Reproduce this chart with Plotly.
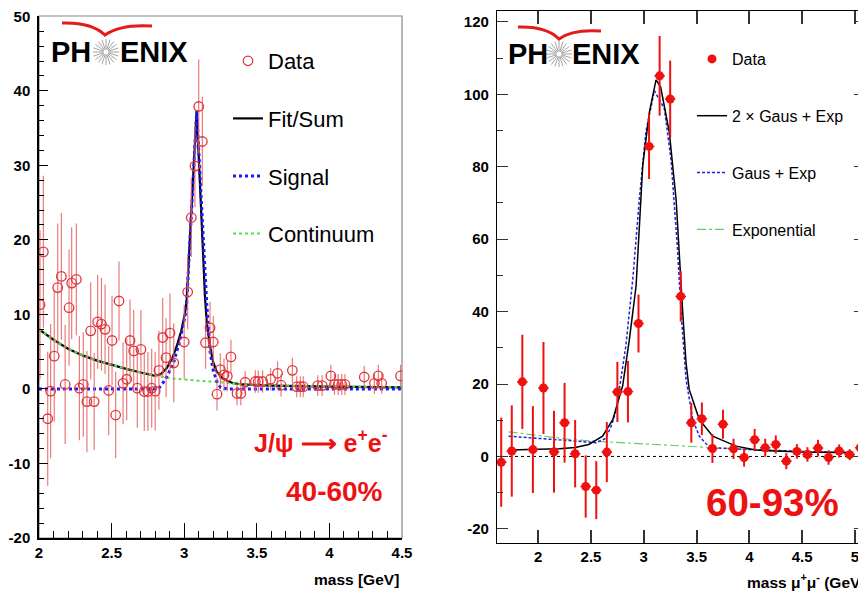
import math
import plotly.graph_objects as go

# The page body has an 8 px margin, so the figure is drawn 8 px in from the
# window's top-left corner; the figure is sized to fill the rest of the window.
WIN_W, WIN_H = 866, 592
OFF = 8
W, H = WIN_W - OFF, WIN_H - OFF

# ---------------- Left panel: J/psi -> e+e-, 40-60% ----------------
ee_mass = [2.007, 2.03, 2.06, 2.08, 2.105, 2.129, 2.154, 2.18, 2.207, 2.225, 2.257, 2.278,
           2.305, 2.33, 2.356, 2.38, 2.404, 2.43, 2.455, 2.48, 2.503, 2.528, 2.551, 2.579,
           2.604, 2.627, 2.652, 2.677, 2.702, 2.725, 2.75, 2.776, 2.8, 2.826, 2.852, 2.875,
           2.902, 2.928, 3.0, 3.024, 3.049, 3.074, 3.1, 3.125, 3.147, 3.178, 3.2, 3.226,
           3.249, 3.274, 3.297, 3.322, 3.364, 3.39, 3.42, 3.49, 3.51, 3.54, 3.595, 3.643,
           3.667, 3.745, 3.775, 3.8, 3.82, 3.92, 3.95, 4.01, 4.035, 4.06, 4.085, 4.107,
           4.24, 4.31, 4.337, 4.36, 4.49]
ee_counts = [11.3, 18.4, -4.0, -0.3, 4.4, 13.6, 15.1, 0.6, 10.9, 14.2, 14.7, 0.1,
             0.6, -1.7, 7.8, -1.7, 9.0, 8.7, 8.0, -0.2, 6.5, -3.5, 11.8, 0.75,
             1.3, 6.5, 5.1, 0.1, 5.3, -0.35, -0.35, 0.1, -0.3, 2.5, 6.9, 4.2,
             7.5, 3.5, 6.3, 13.0, 23.0, 29.9, 37.9, 33.2, 6.2, 8.2, 6.3, -0.7,
             2.6, 1.9, 1.7, 4.3, -0.6, -0.6, 0.9, 1.0, 1.0, 1.0, 1.3, 2.1,
             0.5, 2.5, 0.3, 0.3, 0.3, 0.45, 0.45, 1.75, 0.6, 0.6, 0.6, 0.6,
             1.6, 0.75, 1.75, 0.75, 1.75]
ee_err = [10.0, 10.2, 9.0, 9.0, 8.8, 8.6, 8.5, 8.0, 7.8, 7.5, 7.5, 7.0,
          7.0, 6.8, 6.5, 6.5, 6.3, 6.2, 6.0, 6.0, 6.0, 5.8, 5.3, 5.5,
          5.5, 5.5, 5.5, 5.3, 5.3, 5.3, 5.3, 5.3, 5.3, 5.3, 5.3, 5.3,
          5.3, 5.3, 5.0, 5.0, 5.3, 5.5, 6.3, 6.0, 3.5, 3.5, 3.5, 2.2,
          2.2, 2.2, 2.0, 2.3, 1.6, 1.6, 1.5, 1.5, 1.5, 1.5, 1.5, 1.6,
          1.5, 1.7, 1.4, 1.4, 1.4, 1.4, 1.4, 1.5, 1.4, 1.4, 1.4, 1.4,
          1.5, 1.4, 1.5, 1.4, 1.5]

fit_x = [2.0, 2.1, 2.2, 2.3, 2.4, 2.5, 2.6, 2.7, 2.8, 2.84, 2.88, 2.92, 2.948, 2.98, 3.005,
         3.017, 3.086, 3.143, 3.155, 3.178, 3.2, 3.224, 3.26, 3.3, 3.338, 3.4, 3.6, 4.0, 4.5]
fit_y = [8.0, 6.6, 5.4, 4.5, 3.8, 3.2, 2.7, 2.2, 1.75, 2.0, 2.8, 4.2, 5.7, 7.8, 10.1,
         11.9, 37.4, 12.4, 9.0, 5.7, 3.6, 2.3, 1.5, 1.05, 0.76, 0.6, 0.45, 0.32, 0.22]

sig_x = [2.0, 2.5, 2.82, 2.85, 2.88, 2.925, 2.971, 3.005, 3.017, 3.086, 3.155, 3.178,
         3.2, 3.225, 3.25, 3.3, 3.6, 4.5]
sig_y = [0.0, 0.0, 0.0, 0.7, 1.65, 3.4, 6.6, 9.7, 11.5, 37.2, 11.5, 5.0,
         2.5, 1.0, 0.2, 0.0, 0.0, 0.0]

cont_x = [2.0, 2.1, 2.2, 2.3, 2.4, 2.5, 2.6, 2.7, 2.8, 2.9, 3.0, 3.1, 3.25, 3.4, 3.6, 4.0, 4.5]
cont_y = [8.0, 6.6, 5.4, 4.5, 3.8, 3.2, 2.7, 2.2, 1.75, 1.45, 1.25, 1.1, 0.9, 0.6, 0.45, 0.32, 0.22]

ee_xticks = [2, 2.5, 3, 3.5, 4, 4.5]
ee_xlabels = ["2", "2.5", "3", "3.5", "4", "4.5"]
ee_yticks = [-20, -10, 0, 10, 20, 30, 40, 50]
ee_ylabels = ["-20", "-10", "0", "10", "20", "30", "40", "50"]

# ---------------- Right panel: mu+mu-, 60-93% ----------------
mm_mass = [1.65, 1.75, 1.85, 1.95, 2.05, 2.15, 2.25, 2.35, 2.45, 2.55, 2.65, 2.75,
           2.85, 2.95, 3.05, 3.15, 3.25, 3.35, 3.45, 3.55, 3.65, 3.75, 3.85, 3.95,
           4.05, 4.15, 4.25, 4.35, 4.45, 4.55, 4.65, 4.75, 4.85, 4.95, 5.05]
mm_counts = [-1.6, 1.5, 20.6, 1.9, 18.9, 1.3, 9.3, 0.75, -8.3, -9.3, 1.2, 17.8,
             17.9, 36.7, 85.6, 105.1, 98.7, 44.2, 9.3, 10.4, 2.2, 8.9, 2.1, -0.3,
             4.6, 2.4, 3.3, -1.3, 1.4, 0.55, 2.3, -0.3, 1.5, 0.5, 2.4]
mm_err = [12.3, 12.6, 13.0, 12.0, 12.7, 11.3, 11.0, 9.3, 8.6, 8.0, 8.3, 8.3,
          8.5, 8.0, 9.0, 11.0, 10.6, 7.0, 5.5, 4.5, 4.0, 4.0, 2.8, 2.5,
          3.0, 2.5, 2.5, 2.2, 2.0, 2.0, 2.3, 2.0, 1.8, 1.5, 2.0]
mm_binhalf = [0.05] * len(mm_mass)

two_gaus_x = [1.72, 2.0, 2.2, 2.35, 2.48, 2.61, 2.707, 2.8, 2.864, 2.927, 2.99, 3.053,
              3.116, 3.16, 3.2, 3.242, 3.306, 3.353, 3.369, 3.4, 3.43, 3.526, 3.653,
              3.873, 4.06, 4.5, 4.98]
two_gaus_y = [1.8, 1.9, 2.1, 2.5, 3.3, 5.6, 10.2, 19.5, 32.4, 47.0, 80.3, 95.0,
              104.0, 102.0, 96.0, 89.5, 71.0, 46.0, 39.7, 25.9, 18.5, 10.2, 5.6,
              2.85, 1.75, 1.2, 1.0]

gaus_x = [1.72, 2.0, 2.3, 2.55, 2.64, 2.7, 2.74, 2.77, 2.83, 2.896, 2.958, 3.02, 3.1,
          3.195, 3.258, 3.32, 3.353, 3.4, 3.464, 3.526, 3.59, 3.653, 4.0, 4.5, 4.97]
gaus_y = [5.6, 5.0, 4.4, 3.8, 5.0, 9.0, 13.0, 18.5, 30.5, 49.0, 71.0, 89.6, 101.0,
          96.0, 82.0, 57.0, 39.7, 21.3, 10.2, 5.6, 3.5, 2.4, 1.9, 1.4, 1.0]

expo_x = [1.72, 2.0, 2.3, 2.55, 2.8, 3.0, 3.24, 3.45, 3.65, 3.9, 4.19, 4.5, 4.98]
expo_y = [6.8, 5.7, 4.7, 4.2, 3.8, 3.4, 3.0, 2.7, 2.4, 2.05, 1.75, 1.45, 1.2]

mm_xticks = [2, 2.5, 3, 3.5, 4, 4.5, 5]
mm_xlabels = ["2", "2.5", "3", "3.5", "4", "4.5", "5"]
mm_yticks = [-20, 0, 20, 40, 60, 80, 100, 120]
mm_ylabels = ["-20", "0", "20", "40", "60", "80", "100", "120"]


def pxx(x):
    """window pixel x -> paper fraction"""
    return (x - OFF) / W


def pxy(y):
    """window pixel y -> paper fraction"""
    return 1 - (y - OFF) / H


FONT = "Liberation Sans, Arial, Helvetica, sans-serif"

fig = go.Figure()

# left traces
fig.add_trace(go.Scatter(
    x=fit_x, y=fit_y, mode="lines", name="Fit/Sum", legend="legend", legendgroup="a2",
    line=dict(color="black", width=2.2), xaxis="x", yaxis="y", legendrank=2))
fig.add_trace(go.Scatter(
    x=cont_x, y=cont_y, mode="lines", name="Continuum", legend="legend", legendgroup="a4",
    line=dict(color="#55dd55", width=2, dash="dot"), xaxis="x", yaxis="y", legendrank=4))
fig.add_trace(go.Scatter(
    x=sig_x, y=sig_y, mode="lines", name="Signal", legend="legend", legendgroup="a3",
    line=dict(color="#1a1aff", width=3, dash="dot"), xaxis="x", yaxis="y", legendrank=3))
fig.add_trace(go.Scatter(
    x=ee_mass, y=ee_counts, mode="markers", name="Data", legend="legend", legendgroup="a1",
    marker=dict(symbol="circle-open", size=9.5, color="#e0353a", line=dict(width=1.3)),
    error_y=dict(type="data", array=ee_err, color="rgba(228,100,100,0.85)", thickness=1.2, width=0),
    xaxis="x", yaxis="y", legendrank=1))

# right traces
fig.add_trace(go.Scatter(
    x=[1.61, 5.095], y=[0, 0], mode="lines", showlegend=False, hoverinfo="skip",
    line=dict(color="black", width=1, dash="dot"), xaxis="x2", yaxis="y2"))
fig.add_trace(go.Scatter(
    x=expo_x, y=expo_y, mode="lines", name="Exponential", legend="legend2", legendgroup="b4",
    line=dict(color="#66cc66", width=1.2, dash="dashdot"), xaxis="x2", yaxis="y2", legendrank=4))
fig.add_trace(go.Scatter(
    x=gaus_x, y=gaus_y, mode="lines", name="Gaus + Exp", legend="legend2", legendgroup="b3",
    line=dict(color="#2222dd", width=1.5, dash="3px,2px"), xaxis="x2", yaxis="y2", legendrank=3))
fig.add_trace(go.Scatter(
    x=two_gaus_x, y=two_gaus_y, mode="lines", name="2 \u00d7 Gaus + Exp", legend="legend2",
    legendgroup="b2", line=dict(color="black", width=1.5), xaxis="x2", yaxis="y2", legendrank=2))
fig.add_trace(go.Scatter(
    x=mm_mass, y=mm_counts, mode="markers", name="Data", legend="legend2", legendgroup="b1",
    marker=dict(symbol="circle", size=9, color="#f01010"),
    error_y=dict(type="data", array=mm_err, color="#f01010", thickness=2, width=0),
    error_x=dict(type="data", array=mm_binhalf, color="#f01010", thickness=1.5, width=0),
    xaxis="x2", yaxis="y2", legendrank=1))

tickfont = dict(family=FONT, size=15, color="black", weight="bold")

layout = dict(
    width=W, height=H, margin=dict(l=0, r=0, t=0, b=0, pad=0, autoexpand=False),
    paper_bgcolor="white", plot_bgcolor="white",
    font=dict(family=FONT, color="black"),
    xaxis=dict(domain=[pxx(39), pxx(402)], range=[2.0, 4.5], anchor="y", automargin=False,
               tickvals=ee_xticks, ticktext=ee_xlabels, ticks="inside", ticklen=15,
               tickwidth=1.2, tickcolor="black", showgrid=False, zeroline=False,
               showline=True, linecolor="black", linewidth=1.5, tickfont=tickfont,
               ticklabeloverflow="allow",
               minor=dict(ticks="inside", dtick=0.1, ticklen=7, tickcolor="black", showgrid=False)),
    yaxis=dict(domain=[pxy(538), pxy(16)], range=[-20, 50.04], anchor="x", automargin=False,
               tickvals=ee_yticks, ticktext=ee_ylabels, ticks="inside", ticklen=9,
               tickwidth=1.2, tickcolor="black", showgrid=False, zeroline=False,
               showline=True, linecolor="black", linewidth=1.5, tickfont=tickfont,
               ticklabelstandoff=4, ticklabeloverflow="allow",
               minor=dict(ticks="inside", dtick=2, ticklen=5, tickcolor="black", showgrid=False)),
    xaxis2=dict(domain=[pxx(497), pxx(865)], range=[1.61, 5.095], anchor="y2", automargin=False,
                tickvals=mm_xticks, ticktext=mm_xlabels, ticks="inside", ticklen=13,
                tickwidth=1.5, tickcolor="#333", showgrid=False, zeroline=False,
                showline=True, linecolor="black", linewidth=1.2, mirror="ticks",
                tickfont=tickfont, ticklabeloverflow="allow"),
    yaxis2=dict(domain=[pxy(543), pxy(11)], range=[-23.9, 123], anchor="x2", automargin=False,
                tickvals=mm_yticks, ticktext=mm_ylabels, ticks="inside", ticklen=11,
                tickwidth=1.2, tickcolor="#333", showgrid=False, zeroline=False,
                showline=True, linecolor="black", linewidth=1.2, mirror="ticks",
                tickfont=tickfont, ticklabelstandoff=4, ticklabeloverflow="allow",
                minor=dict(ticks="inside", dtick=10, ticklen=6, tickcolor="#333", showgrid=False)),
    legend=dict(x=pxx(228), y=pxy(40), xanchor="left", yanchor="top",
                bgcolor="rgba(255,255,255,0)", font=dict(family=FONT, size=22, color="black"),
                tracegroupgap=26, itemwidth=30),
    legend2=dict(x=pxx(692), y=pxy(42), xanchor="left", yanchor="top",
                 bgcolor="rgba(255,255,255,0)", font=dict(family=FONT, size=16, color="black"),
                 tracegroupgap=33, itemwidth=30),
)

shapes = [
    # left frame (thin gray top/right)
    dict(type="rect", xref="paper", yref="paper", x0=pxx(39), x1=pxx(402), y0=pxy(538), y1=pxy(16),
         line=dict(color="#888", width=1.2), layer="below"),
]

red_font = dict(family=FONT, color="#ee1111", weight="bold")
annotations = [
    dict(text="J/\u03c8 \u27f6 e<sup>+</sup>e<sup>-</sup>", x=pxx(321), y=pxy(441),
         xanchor="center", yanchor="middle", xref="paper", yref="paper",
         showarrow=False, font=dict(size=25, **red_font)),
    dict(text="40-60%", x=pxx(334), y=pxy(491), xanchor="center", yanchor="middle",
         xref="paper", yref="paper", showarrow=False, font=dict(size=28, **red_font)),
    dict(text="60-93%", x=pxx(772), y=pxy(502), xanchor="center", yanchor="middle",
         xref="paper", yref="paper", showarrow=False, font=dict(size=38.5, **red_font)),
    dict(text="mass [GeV]", x=pxx(401), y=pxy(579), xref="paper", yref="paper",
         xanchor="right", yanchor="middle", showarrow=False,
         font=dict(family=FONT, size=15.5, color="black", weight="bold")),
    dict(text="mass \u03bc<sup>+</sup>\u03bc<sup>-</sup> (GeV)", x=pxx(868), y=pxy(581),
         xref="paper", yref="paper", xanchor="right", yanchor="middle", showarrow=False,
         font=dict(family=FONT, size=15.5, color="black", weight="bold")),
]


def add_logo(x_ph_left, x_star, x_enix_left, y_text, wing):
    for txt, xl in (("PH", x_ph_left), ("ENIX", x_enix_left)):
        annotations.append(dict(text=txt, x=pxx(xl), y=pxy(y_text), xref="paper", yref="paper",
                                xanchor="left", yanchor="middle", showarrow=False, borderpad=0,
                                font=dict(family=FONT, size=29, color="black", weight="bold")))
    for k in range(20):
        a = math.pi * k / 10
        r1, r2 = 2.5, 13
        shapes.append(dict(type="line", xref="paper", yref="paper",
                           x0=pxx(x_star + r1 * math.cos(a)), y0=pxy(y_text + r1 * math.sin(a)),
                           x1=pxx(x_star + r2 * math.cos(a)), y1=pxy(y_text + r2 * math.sin(a)),
                           line=dict(color="#999", width=0.9)))
    (lx, ly), (mx, my), (rx, ry) = wing
    path = ("M {:.5f},{:.5f} Q {:.5f},{:.5f} {:.5f},{:.5f} Q {:.5f},{:.5f} {:.5f},{:.5f}").format(
        pxx(lx), pxy(ly), pxx((lx + mx) / 2 + 8), pxy(ly - 1), pxx(mx), pxy(my),
        pxx((mx + rx) / 2 - 8), pxy(ry - 2), pxx(rx), pxy(ry))
    shapes.append(dict(type="path", xref="paper", yref="paper", path=path,
                       line=dict(color="#e41b1b", width=3)))


add_logo(50, 106, 119, 52, ((62, 23), (105, 35), (152, 26)))
add_logo(507, 559, 571, 54, ((518, 27), (559, 39), (601, 31)))

layout["shapes"] = shapes
layout["annotations"] = annotations
fig.update_layout(**layout)

fig.write_html("out.html")
